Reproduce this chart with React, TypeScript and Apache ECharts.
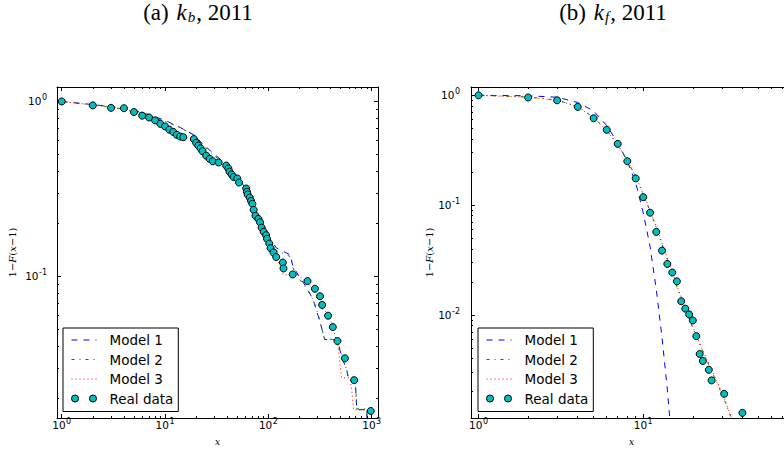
import React, { useEffect, useRef } from "react";
import * as echarts from "echarts";

// ---------- (a) k_b, 2011 ----------
const kbRealX = [1, 2, 3, 4, 5, 6, 7, 8, 9, 10, 11, 12, 13, 14, 15, 19, 20, 21, 22, 23, 25, 27, 29, 33, 39, 41, 42, 44, 46, 50, 52, 61, 62, 63, 66, 68, 70, 72, 75, 80, 83, 86, 90, 95, 97, 102, 105, 112, 119, 138, 140, 172, 239, 282, 316, 331, 378, 420, 466, 550, 676, 978];
const kbRealY = [1.0, 0.95, 0.92, 0.915, 0.87, 0.83, 0.81, 0.78, 0.745, 0.72, 0.69, 0.67, 0.645, 0.63, 0.625, 0.61, 0.58, 0.56, 0.54, 0.52, 0.49, 0.47, 0.455, 0.448, 0.43, 0.414, 0.397, 0.383, 0.37, 0.363, 0.344, 0.318, 0.305, 0.294, 0.282, 0.27, 0.26, 0.24, 0.222, 0.213, 0.204, 0.19, 0.18, 0.172, 0.164, 0.154, 0.145, 0.137, 0.129, 0.12, 0.111, 0.1026, 0.094, 0.085, 0.077, 0.0687, 0.0596, 0.0513, 0.0427, 0.034, 0.0255, 0.017];

const kbM1X = [1, 2, 3, 5, 7, 10, 14, 19, 24, 30, 40, 50, 60, 70, 80, 90, 105, 120, 130, 162, 173, 203, 235, 271, 302, 330, 350, 459, 520, 574, 593, 691, 717, 897, 905];
const kbM1Y = [1.0, 0.96, 0.935, 0.89, 0.84, 0.78, 0.71, 0.645, 0.56, 0.5, 0.43, 0.37, 0.32, 0.27, 0.225, 0.195, 0.162, 0.145, 0.142, 0.133, 0.114, 0.098, 0.086, 0.0736, 0.06, 0.05, 0.0435, 0.0435, 0.034, 0.029, 0.0263, 0.0263, 0.0173, 0.0173, 0.01];

const kbM2X = [1, 2, 3, 5, 7, 10, 14, 19, 24, 30, 40, 51, 60, 70, 80, 90, 105, 120, 130, 162, 173, 203, 235, 271, 302, 330, 350, 459, 520, 574, 593, 691, 717, 897, 905];
const kbM2Y = [1.0, 0.955, 0.93, 0.88, 0.83, 0.77, 0.71, 0.64, 0.55, 0.49, 0.425, 0.335, 0.31, 0.265, 0.22, 0.19, 0.158, 0.14, 0.138, 0.13, 0.112, 0.095, 0.085, 0.074, 0.061, 0.05, 0.044, 0.0435, 0.035, 0.029, 0.0265, 0.0265, 0.0175, 0.0175, 0.01];

const kbM3X = [1, 2, 3, 5, 7, 10, 14, 17, 20, 25, 30, 40, 50, 60, 70, 80, 90, 100, 115, 130, 139, 194, 227, 283, 300, 320, 370, 411, 459, 473, 510, 616, 643, 668, 897, 905];
const kbM3Y = [1.0, 0.955, 0.925, 0.875, 0.815, 0.73, 0.645, 0.605, 0.585, 0.5, 0.455, 0.42, 0.36, 0.318, 0.255, 0.21, 0.18, 0.155, 0.133, 0.115, 0.102, 0.102, 0.0936, 0.084, 0.078, 0.066, 0.062, 0.0544, 0.042, 0.0398, 0.0263, 0.0263, 0.0217, 0.0173, 0.0172, 0.01];

// ---------- (b) k_f, 2011 ----------
const kfRealX = [1, 2, 3, 4, 5, 6, 7, 8, 9, 10, 11, 12, 13, 14, 15, 16, 17, 18, 19, 20, 21, 22, 23, 25, 26, 31, 40];
const kfRealY = [1.0, 0.955, 0.9, 0.784, 0.618, 0.485, 0.361, 0.251, 0.175, 0.118, 0.0853, 0.057, 0.0385, 0.0291, 0.0243, 0.0202, 0.0133, 0.0114, 0.0101, 0.0089, 0.0064, 0.0044, 0.0038, 0.00316, 0.00253, 0.00191, 0.00128];

const kfM1X = [1, 2, 3, 4, 5, 6, 7, 8, 9, 10, 11, 12, 13, 14, 14.6];
const kfM1Y = [1.0, 0.99, 0.96, 0.86, 0.72, 0.53, 0.37, 0.25, 0.16, 0.085, 0.042, 0.017, 0.0062, 0.0021, 0.001];

const kfM2X = [1, 2, 3, 4, 5, 6, 7, 8, 9, 10, 11, 12, 13, 14, 15, 16, 18, 20, 22, 25, 28, 31, 34, 35];
const kfM2Y = [1.0, 0.965, 0.905, 0.79, 0.63, 0.48, 0.355, 0.255, 0.18, 0.125, 0.088, 0.062, 0.044, 0.032, 0.024, 0.018, 0.0112, 0.0076, 0.0054, 0.0035, 0.0024, 0.0017, 0.00118, 0.00105];

const kfM3X = [1, 2, 3, 4, 5, 6, 7, 8, 9, 10, 11, 12, 13, 14, 15, 16, 18, 20, 22, 25, 28, 31, 34, 35];
const kfM3Y = [1.0, 0.96, 0.9, 0.785, 0.625, 0.478, 0.355, 0.257, 0.183, 0.127, 0.09, 0.064, 0.045, 0.033, 0.025, 0.0185, 0.0116, 0.0078, 0.0055, 0.0036, 0.0025, 0.00175, 0.0012, 0.00105];

// ---------- axes ----------
const kbXLim = [0.9, 1150];
const kbYLim = [0.0155, 1.21];
const kfXLim = [0.9, 80];
const kfYLim = [0.00115, 1.19];

const kbXMajor = [1, 10, 100, 1000];
const kbYMajor = [0.1, 1];
const kfXMajor = [1, 10];
const kfYMajor = [0.01, 0.1, 1];
const minorMultipliers = [2, 3, 4, 5, 6, 7, 8, 9];
const kbXDecades = [1, 10, 100];
const kbYDecades = [0.01, 0.1];
const kfXDecades = [1, 10];
const kfYDecades = [0.001, 0.01, 0.1];

const seriesNames = ["Model 1", "Model 2", "Model 3", "Real data"];
const titles = ["{n|(a) }{i|k}{sub|b}{n|, 2011}", "{n|(b) }{i|k}{sub|f}{n|, 2011}"];

const makeMinors = (decades: number[], lim: number[]) =>
  decades
    .flatMap((d) => minorMultipliers.map((m) => parseFloat((m * d).toPrecision(4))))
    .filter((v) => v >= lim[0] && v <= lim[1]);

const zip = (xs: number[], ys: number[]) => xs.map((x, i) => [x, ys[i]]);

const BLACK = "#000";
const tickStyle = { color: BLACK, width: 1 };
const labelRich = {
  b: { fontFamily: "DejaVu Sans", fontSize: 10.5, color: BLACK, lineHeight: 14, verticalAlign: "middle" },
  s: { fontFamily: "DejaVu Sans", fontSize: 8, color: BLACK, lineHeight: 7, verticalAlign: "middle", padding: [0, 0, 7, 0.5] },
};
const nameRich = {
  n: { fontFamily: "DejaVu Serif", fontSize: 10, color: BLACK },
  i: { fontFamily: "DejaVu Serif", fontSize: 10, fontStyle: "italic", color: BLACK },
};
const xNameRich = {
  i: { fontFamily: "DejaVu Serif", fontSize: 9, fontStyle: "italic", color: BLACK, lineHeight: 10 },
};
const powLabel = (v: number) => {
  const e = Math.round(Math.log10(v));
  return `{b|10}{s|${e}}`;
};

function makeAxes(kind: "x" | "y", grid: number, lim: number[], majors: number[], minors: number[], nameGap: number, labelMargin: number) {
  const base: any = {
    type: "log",
    logBase: 10,
    gridIndex: grid,
    min: lim[0],
    max: lim[1],
    splitLine: { show: false },
    minorTick: { show: false },
    minorSplitLine: { show: false },
    axisPointer: { show: false },
  };
  const pos1 = kind === "x" ? "bottom" : "left";
  const pos2 = kind === "x" ? "top" : "right";
  const name = kind === "x" ? "{i|x}" : "{n|1\u2212}{i|F}{n|(}{i|x}{n|\u22121)}";
  const major = (position: string, labels: boolean) => ({
    ...base,
    position,
    axisLine: { show: true, onZero: false, lineStyle: tickStyle },
    axisTick: { show: true, inside: true, length: 4, customValues: majors, lineStyle: tickStyle },
    axisLabel: labels
      ? { show: true, customValues: majors, margin: labelMargin, formatter: powLabel, rich: labelRich }
      : { show: false },
    ...(labels
      ? {
          name,
          nameLocation: "middle",
          nameGap,
          nameRotate: kind === "y" ? 90 : 0,
          nameTextStyle: { rich: kind === "x" ? xNameRich : nameRich },
        }
      : {}),
  });
  const minor = (position: string) => ({
    ...base,
    position,
    axisLine: { show: false },
    axisTick: { show: true, inside: true, length: 2, customValues: minors, lineStyle: tickStyle },
    axisLabel: { show: false },
  });
  return [major(pos1, true), minor(pos1), major(pos2, false), minor(pos2)];
}

const legendBase = (left: number) => ({
  left,
  top: 328,
  orient: "vertical",
  itemWidth: 25,
  itemHeight: 14,
  itemGap: 5.5,
  padding: [5, 5, 6, 8],
  borderColor: BLACK,
  borderWidth: 1,
  borderRadius: 0,
  backgroundColor: "#fff",
  selectedMode: false,
  symbolKeepAspect: true,
  textStyle: { fontFamily: "DejaVu Sans", fontSize: 13.5, color: BLACK, padding: [0, 0, 0, 8] },
  data: [
    { name: seriesNames[0], itemStyle: { opacity: 0 }, lineStyle: { color: "#0000ff", width: 1, type: [6, 6] } },
    { name: seriesNames[1], itemStyle: { opacity: 0 }, lineStyle: { color: "#008000", width: 1, type: [3, 5, 1, 5] } },
    { name: seriesNames[2], itemStyle: { opacity: 0 }, lineStyle: { color: "#ff0000", width: 1, type: [1, 3] } },
    {
      name: seriesNames[3],
      icon: "path://M0,3.5a3.5,3.5 0 1,0 7,0a3.5,3.5 0 1,0 -7,0M18,3.5a3.5,3.5 0 1,0 7,0a3.5,3.5 0 1,0 -7,0",
      itemStyle: { color: "#00bfbf", borderColor: BLACK, borderWidth: 1 },
    },
  ],
});

function makeSeries(axisIndex: number, m1: number[][], m2: number[][], m3: number[][], real: number[][]) {
  const line = (name: string, data: number[][], color: string, type: any) => ({
    type: "line",
    name,
    xAxisIndex: axisIndex,
    yAxisIndex: axisIndex,
    data,
    symbol: "none",
    smooth: false,
    lineStyle: { color, width: 1, type },
    itemStyle: { color },
    z: 2,
  });
  return [
    line(seriesNames[0], m1, "#0000ff", [6, 6]),
    line(seriesNames[1], m2, "#008000", [3, 5, 1, 5]),
    line(seriesNames[2], m3, "#ff0000", [1, 3]),
    {
      type: "scatter",
      name: seriesNames[3],
      xAxisIndex: axisIndex,
      yAxisIndex: axisIndex,
      data: real,
      symbol: "circle",
      symbolSize: 7,
      itemStyle: { color: "#00bfbf", borderColor: BLACK, borderWidth: 1, opacity: 1 },
      z: 5,
    },
  ];
}

const titleRich = {
  n: { fontFamily: "Liberation Serif", fontSize: 23, color: BLACK, lineHeight: 24, verticalAlign: "bottom" },
  i: { fontFamily: "Liberation Serif", fontSize: 23, fontStyle: "italic", color: BLACK, lineHeight: 24, verticalAlign: "bottom", padding: [0, 1, 0, 2] },
  sub: { fontFamily: "Liberation Serif", fontSize: 15, fontStyle: "italic", color: BLACK, lineHeight: 14, verticalAlign: "bottom", padding: [0, 1, 0, 0] },
};

export default function App() {
  const ref = useRef<HTMLDivElement>(null);
  useEffect(() => {
    if (!ref.current) return;
    const chart = echarts.init(ref.current, null, { renderer: "svg" });
    const option: any = {
      animation: false,
      backgroundColor: "#fff",
      textStyle: { fontFamily: "DejaVu Sans" },
      grid: [
        { left: 57, top: 87, width: 321, height: 331, outerBoundsMode: "none", containLabel: false },
        { left: 471, top: 87, width: 321, height: 331, outerBoundsMode: "none", containLabel: false },
      ],
      xAxis: [
        ...makeAxes("x", 0, kbXLim, kbXMajor, makeMinors(kbXDecades, kbXLim), 18, 0),
        ...makeAxes("x", 1, kfXLim, kfXMajor, makeMinors(kfXDecades, kfXLim), 18, 0),
      ],
      yAxis: [
        ...makeAxes("y", 0, kbYLim, kbYMajor, makeMinors(kbYDecades, kbYLim), 40, 10),
        ...makeAxes("y", 1, kfYLim, kfYMajor, makeMinors(kfYDecades, kfYLim), 37, 11),
      ],
      legend: [legendBase(63), legendBase(478)],
      graphic: [
        { type: "text", x: 198, y: 0, style: { text: titles[0], rich: titleRich, align: "center", verticalAlign: "top" } },
        { type: "text", x: 613, y: 0, style: { text: titles[1], rich: titleRich, align: "center", verticalAlign: "top" } },
      ],
      series: [
        ...makeSeries(0, zip(kbM1X, kbM1Y), zip(kbM2X, kbM2Y), zip(kbM3X, kbM3Y), zip(kbRealX, kbRealY)),
        ...makeSeries(4, zip(kfM1X, kfM1Y), zip(kfM2X, kfM2Y), zip(kfM3X, kfM3Y), zip(kfRealX, kfRealY)),
      ],
    };
    chart.setOption(option);
    return () => chart.dispose();
  }, []);
  return (
    <div style={{ position: "fixed", left: 0, top: 0, width: 784, height: 449, overflow: "hidden", background: "#fff" }}>
      <div ref={ref} style={{ width: 800, height: 449 }} />
    </div>
  );
}
